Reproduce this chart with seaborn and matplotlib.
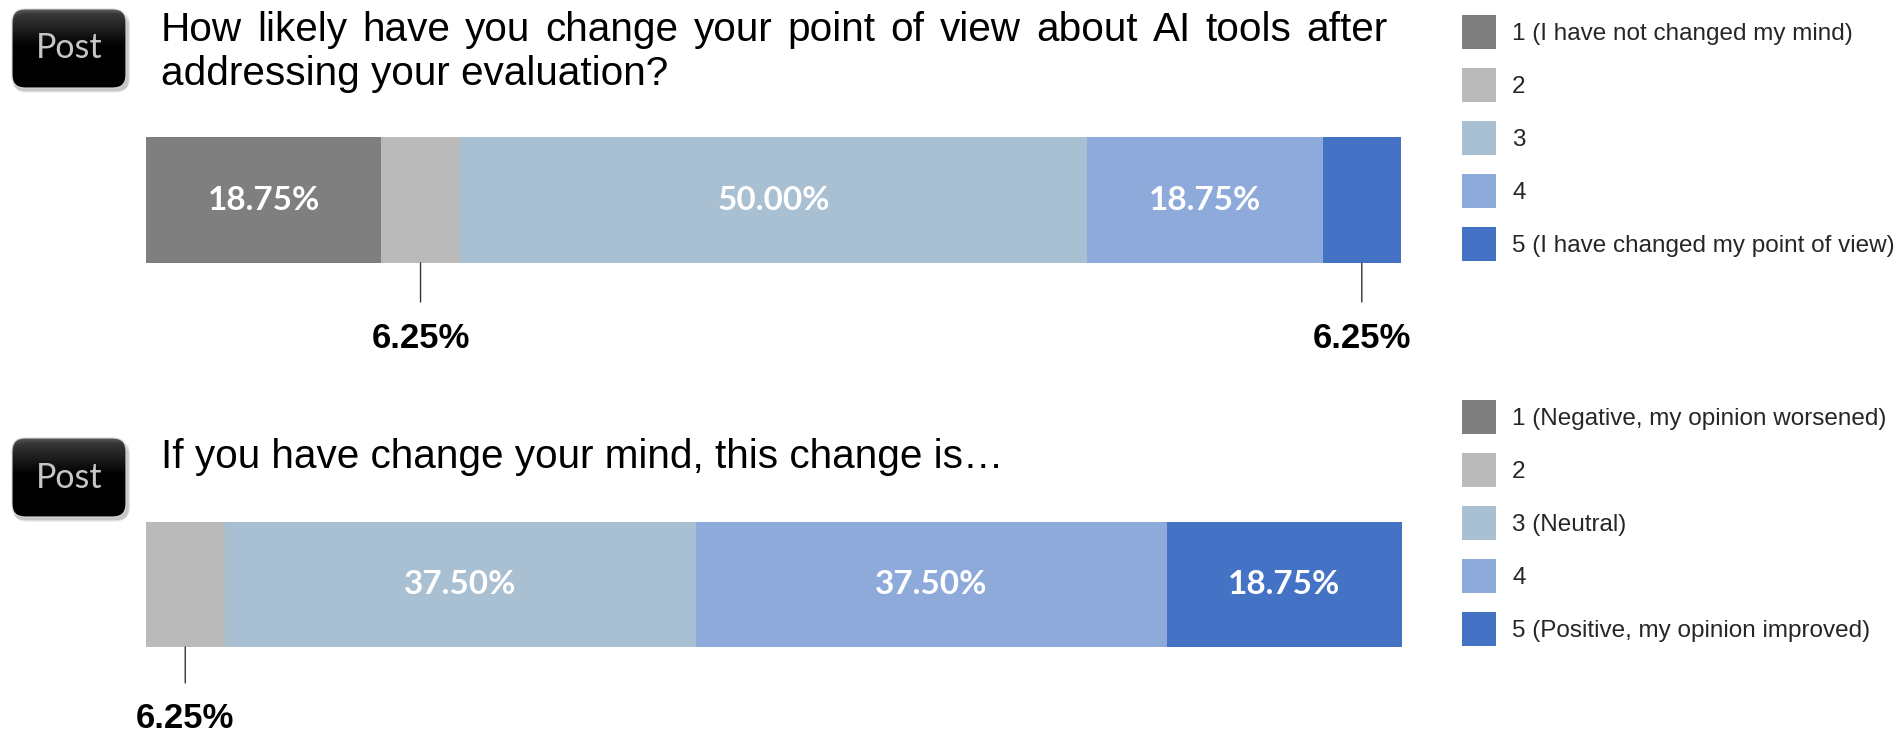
import numpy as np
import pandas as pd
import matplotlib.pyplot as plt
import seaborn as sns
from matplotlib.patches import Patch, FancyBboxPatch
from matplotlib.colors import LinearSegmentedColormap
import matplotlib.patheffects as pe

# --- data ---
levels = ["1", "2", "3", "4", "5"]
colors = ["#7f7f7f", "#bababa", "#a9bfd2", "#8eaadb", "#4472c4"]

q1_title = "How likely have you change your point of view about AI tools after\naddressing your evaluation?"
q1_values = [18.75, 6.25, 50.00, 18.75, 6.25]
q1_legend = ["1 (I have not changed my mind)", "2", "3", "4",
             "5 (I have changed my point of view)"]

q2_title = "If you have change your mind, this change is\u2026"
q2_values = [0.00, 6.25, 37.50, 37.50, 18.75]
q2_legend = ["1 (Negative, my opinion worsened)", "2", "3 (Neutral)", "4",
             "5 (Positive, my opinion improved)"]

badge_text = "Post"

sns.set_theme(style="white")
plt.rcParams["font.family"] = ["Liberation Sans", "DejaVu Sans"]

W, H = 1901, 737
fig = plt.figure(figsize=(W / 100, H / 100), dpi=100)
fig.patch.set_facecolor("white")
renderer = fig.canvas.get_renderer()


def frac_rect(x0, y0, x1, y1):
    # pixel box (top-left origin) -> figure fraction rect
    return [x0 / W, 1 - y1 / H, (x1 - x0) / W, (y1 - y0) / H]


def draw_badge(x0, y0, x1, y1):
    # soft shadow
    for i, a in enumerate([0.06, 0.08, 0.10]):
        sh = FancyBboxPatch(((x0 + 2 - i) / 100, (H - y1 - 5 + i) / 100),
                            (x1 - x0 + 2 * i) / 100, (y1 - y0) / 100,
                            boxstyle="round,pad=0,rounding_size=0.13",
                            transform=fig.dpi_scale_trans, facecolor="black",
                            edgecolor="none", alpha=a)
        fig.add_artist(sh)
    bax = fig.add_axes(frac_rect(x0, y0, x1, y1))
    bax.set_axis_off()
    cmap = LinearSegmentedColormap.from_list(
        "badge", [(0, "#555555"), (0.45, "#050505"), (1, "#000000")])
    grad = np.linspace(0, 1, 256)[:, None]
    im = bax.imshow(grad, cmap=cmap, aspect="auto", extent=(0, 1, 0, 1))
    clip = FancyBboxPatch((x0 / 100, (H - y1) / 100), (x1 - x0) / 100, (y1 - y0) / 100,
                          boxstyle="round,pad=0,rounding_size=0.13",
                          transform=fig.dpi_scale_trans, facecolor="none",
                          edgecolor="#d8d8d8", lw=0.8)
    im.set_clip_path(clip)
    fig.add_artist(clip)
    bax.text(0.5, 0.5, badge_text, color="white", fontsize=24.5, family="Lato",
             ha="center", va="center", transform=bax.transAxes)


def draw_title(title, baseline, line_gap, x_left=161, x_right=1388, size=29.2):
    # justified text like the original slide (all lines but the last)
    lines = title.split("\n")
    for i, line in enumerate(lines):
        y = 1 - (baseline + i * line_gap) / H
        if i < len(lines) - 1:
            words = line.split(" ")
            texts = [fig.text(0, y, w, fontsize=size, color="black",
                              ha="left", va="baseline") for w in words]
            widths = [t.get_window_extent(renderer).width for t in texts]
            gap = (x_right - x_left - sum(widths)) / (len(words) - 1)
            x = x_left
            for t, w in zip(texts, widths):
                t.set_x(x / W)
                x += w + gap
        else:
            fig.text(x_left / W, y, line, fontsize=size, color="black",
                     ha="left", va="baseline")


def draw_question(rect_px, values, title, title_base, legend_labels, legend_top,
                  line_px, text_px):
    ax = fig.add_axes(frac_rect(*rect_px))
    cum = np.cumsum(values)
    q = ["q"]
    # stacked bar: draw cumulative totals from the longest down
    for k in reversed(range(len(values))):
        sns.barplot(x=[cum[k]], y=q, color=colors[k], saturation=1, width=0.8,
                    edgecolor="none", linewidth=0, ax=ax)
        if k == len(values) - 1:
            ax.patches[0].set_path_effects([
                pe.SimplePatchShadow(offset=(3.5, -3.5), shadow_rgbFace="#777777", alpha=0.55),
                pe.Normal()])
    ax.set_xlim(0, 100)
    ax.set_ylim(0.4, -0.4)
    ax.set_axis_off()

    starts = cum - np.array(values)
    for v, s in zip(values, starts):
        if v <= 0:
            continue
        mid = s + v / 2
        label = f"{v:.2f}%"
        if v >= 10:
            ax.text(mid, 0, label, color="white", fontsize=24, family="Lato",
                    fontweight="bold", ha="center", va="center")
        else:
            ax.annotate("", xy=(mid, 0.4), xytext=(0, -line_px),
                        textcoords="offset pixels",
                        arrowprops=dict(arrowstyle="-", color="#333333", lw=1,
                                        shrinkA=0, shrinkB=0))
            ax.annotate(label, xy=(mid, 0.4), xytext=(0, -text_px),
                        textcoords="offset pixels", ha="center", va="center",
                        fontsize=25, fontweight="bold", color="black",
                        annotation_clip=False)

    draw_title(title, title_base, 44)

    handles = [Patch(facecolor=c, edgecolor="none") for c in colors]
    fig.legend(handles, legend_labels, loc="upper left",
               bbox_to_anchor=(1462 / W, 1 - legend_top / H), frameon=False,
               borderpad=0, borderaxespad=0, fontsize=17.5,
               handlelength=1.4, handleheight=1.78, labelspacing=0.78,
               handletextpad=0.66)


draw_badge(12, 9, 126, 88)
draw_badge(12, 438, 126, 517)

draw_question((146, 137, 1401, 263), q1_values, q1_title, 41, q1_legend, 15,
              39, 76)
draw_question((146, 522, 1402, 647), q2_values, q2_title, 468, q2_legend, 400,
              36, 72)

fig.savefig("out.png", dpi=100, facecolor="white")
